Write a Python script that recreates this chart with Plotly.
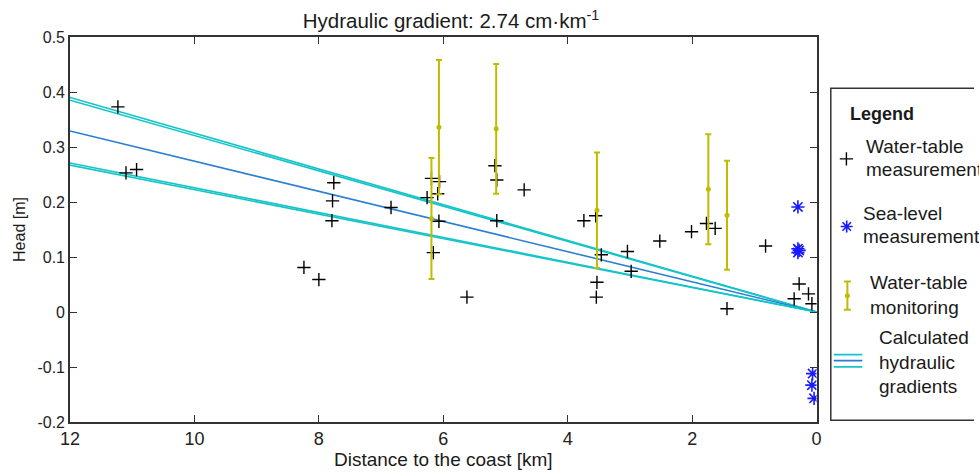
import plotly.graph_objects as go

# ---------------- data ----------------
dist_wt = [11.23, 11.10, 10.93, 7.76, 7.78, 7.79, 8.24, 8.00, 6.84, 6.19, 6.06, 6.26,
           6.09, 6.16, 6.07, 5.62, 5.17, 5.14, 5.14, 4.70, 3.74, 3.55, 3.46, 3.53,
           3.54, 3.04, 2.98, 2.52, 2.01, 1.77, 1.63, 1.44, 0.82, 0.28, 0.36, 0.13, 0.075]
head_wt = [0.373, 0.253, 0.259, 0.235, 0.202, 0.166, 0.081, 0.059, 0.190, 0.243, 0.237, 0.208,
           0.215, 0.108, 0.165, 0.027, 0.266, 0.240, 0.166, 0.222, 0.166, 0.175, 0.104, 0.054,
           0.027, 0.110, 0.074, 0.129, 0.146, 0.161, 0.152, 0.006, 0.120, 0.051, 0.024, 0.033, 0.015]

dist_sea = [0.30, 0.30, 0.30, 0.28, 0.064, 0.075, 0.04]
head_sea = [0.191, 0.115, 0.108, 0.112, -0.112, -0.133, -0.157]

dist_mon = [6.19, 6.07, 5.15, 3.53, 1.74, 1.44]
head_mon = [0.170, 0.336, 0.333, 0.185, 0.223, 0.176]
err_mon = [0.110, 0.122, 0.118, 0.105, 0.100, 0.099]

grad_dist = [0, 12]
grad_heads_12km = [0.390, 0.385, 0.329, 0.271, 0.267]
grad_colors = ["#14c4c8", "#14c4c8", "#2a7fd0", "#14c4c8", "#14c4c8"]

x_ticks = [12, 10, 8, 6, 4, 2, 0]
y_ticks = [0.5, 0.4, 0.3, 0.2, 0.1, 0, -0.1, -0.2]
y_tick_text = ["0.5", "0.4", "0.3", "0.2", "0.1", "0", "-0.1", "-0.2"]

title_text = "Hydraulic gradient: 2.74 cm·km<sup>-1</sup>"
x_title = "Distance to the coast [km]"
y_title = "Head [m]"

# ---------------- styles ----------------
FONT = "Liberation Sans, Arial, sans-serif"
YELLOW = "#bfbc00"
BLUE = "#1a1aff"

W, H = 979, 473
L, T, B = 70, 37, 50.5
PLOT_RIGHT = 820.7
paper_w = W - L

fig = go.Figure()

for h12, col in zip(grad_heads_12km, grad_colors):
    fig.add_trace(go.Scatter(x=grad_dist, y=[0, h12], mode="lines",
                             line=dict(color=col, width=1.6), showlegend=False,
                             hoverinfo="skip"))

fig.add_trace(go.Scatter(x=dist_wt, y=head_wt, mode="markers",
                         marker=dict(symbol="cross-thin", size=9.5, color="black",
                                     line=dict(color="black", width=1.4)),
                         showlegend=False))

fig.add_trace(go.Scatter(x=dist_mon, y=head_mon, mode="markers",
                         marker=dict(symbol="circle", size=5, color=YELLOW),
                         error_y=dict(type="data", array=err_mon, visible=True,
                                      color=YELLOW, thickness=2, width=3),
                         showlegend=False))

fig.add_trace(go.Scatter(x=dist_sea, y=head_sea, mode="markers",
                         marker=dict(symbol="asterisk", size=11, color=BLUE,
                                     line=dict(color=BLUE, width=1.6)),
                         showlegend=False))

# ---------------- hand-drawn legend (pixel-unit inset axes) ----------------
LX0 = 828
fig.add_trace(go.Scatter(x=[850.7], y=[159], mode="markers", xaxis="x2", yaxis="y2",
                         marker=dict(symbol="cross-thin", size=9.5, color="black",
                                     line=dict(color="black", width=1.4)),
                         showlegend=False, hoverinfo="skip"))
fig.add_trace(go.Scatter(x=[851], y=[226.7], mode="markers", xaxis="x2", yaxis="y2",
                         marker=dict(symbol="asterisk", size=10, color=BLUE,
                                     line=dict(color=BLUE, width=1.6)),
                         showlegend=False, hoverinfo="skip"))
fig.add_trace(go.Scatter(x=[851.7], y=[296], mode="markers", xaxis="x2", yaxis="y2",
                         marker=dict(symbol="circle", size=5, color=YELLOW),
                         error_y=dict(type="constant", value=14.2, visible=True,
                                      color=YELLOW, thickness=2, width=3.5),
                         showlegend=False, hoverinfo="skip"))
for yy, col in zip([355, 361, 367.3], ["#14c4c8", "#2a7fd0", "#14c4c8"]):
    fig.add_trace(go.Scatter(x=[838, 866.7], y=[yy, yy], mode="lines", xaxis="x2", yaxis="y2",
                             line=dict(color=col, width=1.6), showlegend=False,
                             hoverinfo="skip"))

shapes = [dict(type="rect", xref="x2", yref="y2", x0=835, x1=1000, y0=88.3, y1=420.7,
               line=dict(color="#333333", width=1.5), fillcolor="rgba(0,0,0,0)")]

legend_lines = [
    ("<b>Legend</b>", 852.7, 114.3),
    ("Water-table", 868, 146.7), ("measurement", 868, 170),
    ("Sea-level", 865, 213.3), ("measurement", 865, 236.7),
    ("Water-table", 872.7, 283.3), ("monitoring", 872.7, 307.7),
    ("Calculated", 881, 338.3), ("hydraulic", 881, 363.3), ("gradients", 881, 386.7),
]
annotations = []
for txt, xx, yy in legend_lines:
    annotations.append(dict(text=txt, x=xx, y=yy, xref="x2", yref="y2",
                            xanchor="left", yanchor="middle", showarrow=False,
                            font=dict(family=FONT, size=19 if "Legend" not in txt else 18,
                                      color="#1a1a1a")))

fig.update_layout(
    width=W, height=H,
    margin=dict(l=L, r=0, t=T, b=B, pad=0),
    paper_bgcolor="white", plot_bgcolor="white",
    showlegend=False,
    title=dict(text=title_text, x=451 / W,
               xanchor="center", xref="container", y=1 - 21 / H, yanchor="middle",
               font=dict(family=FONT, size=20.5, color="#1a1a1a")),
    xaxis=dict(domain=[0, (PLOT_RIGHT - L) / paper_w], range=[12, 0],
               tickvals=x_ticks, ticktext=[str(v) for v in x_ticks],
               ticks="inside", ticklen=7, tickwidth=1.3, tickcolor="#333",
               showline=True, linecolor="#333", linewidth=1.6, mirror="allticks",
               showgrid=False, zeroline=False,
               tickfont=dict(family=FONT, size=18, color="#222"),
               title=dict(text=x_title, font=dict(family=FONT, size=19, color="#1a1a1a"),
                          standoff=4)),
    yaxis=dict(range=[-0.2, 0.5], tickvals=y_ticks, ticktext=y_tick_text,
               ticks="inside", ticklen=7, tickwidth=1.3, tickcolor="#333",
               showline=True, linecolor="#333", linewidth=1.6, mirror="allticks",
               showgrid=False, zeroline=False,
               tickfont=dict(family=FONT, size=16, color="#222"),
               title=dict(text=y_title, font=dict(family=FONT, size=16, color="#1a1a1a"),
                          standoff=8)),
    xaxis2=dict(domain=[(LX0 - L) / paper_w, 1], range=[LX0, W], visible=False,
                anchor="y2", fixedrange=True),
    yaxis2=dict(domain=[0, 1], range=[H - B, T], visible=False, anchor="x2",
                fixedrange=True),
    shapes=shapes,
    annotations=annotations,
)

fig.write_html("out.html",
               config={"displayModeBar": False},
               post_script="document.body.style.margin='0';"
                           "document.body.style.overflow='hidden';")
